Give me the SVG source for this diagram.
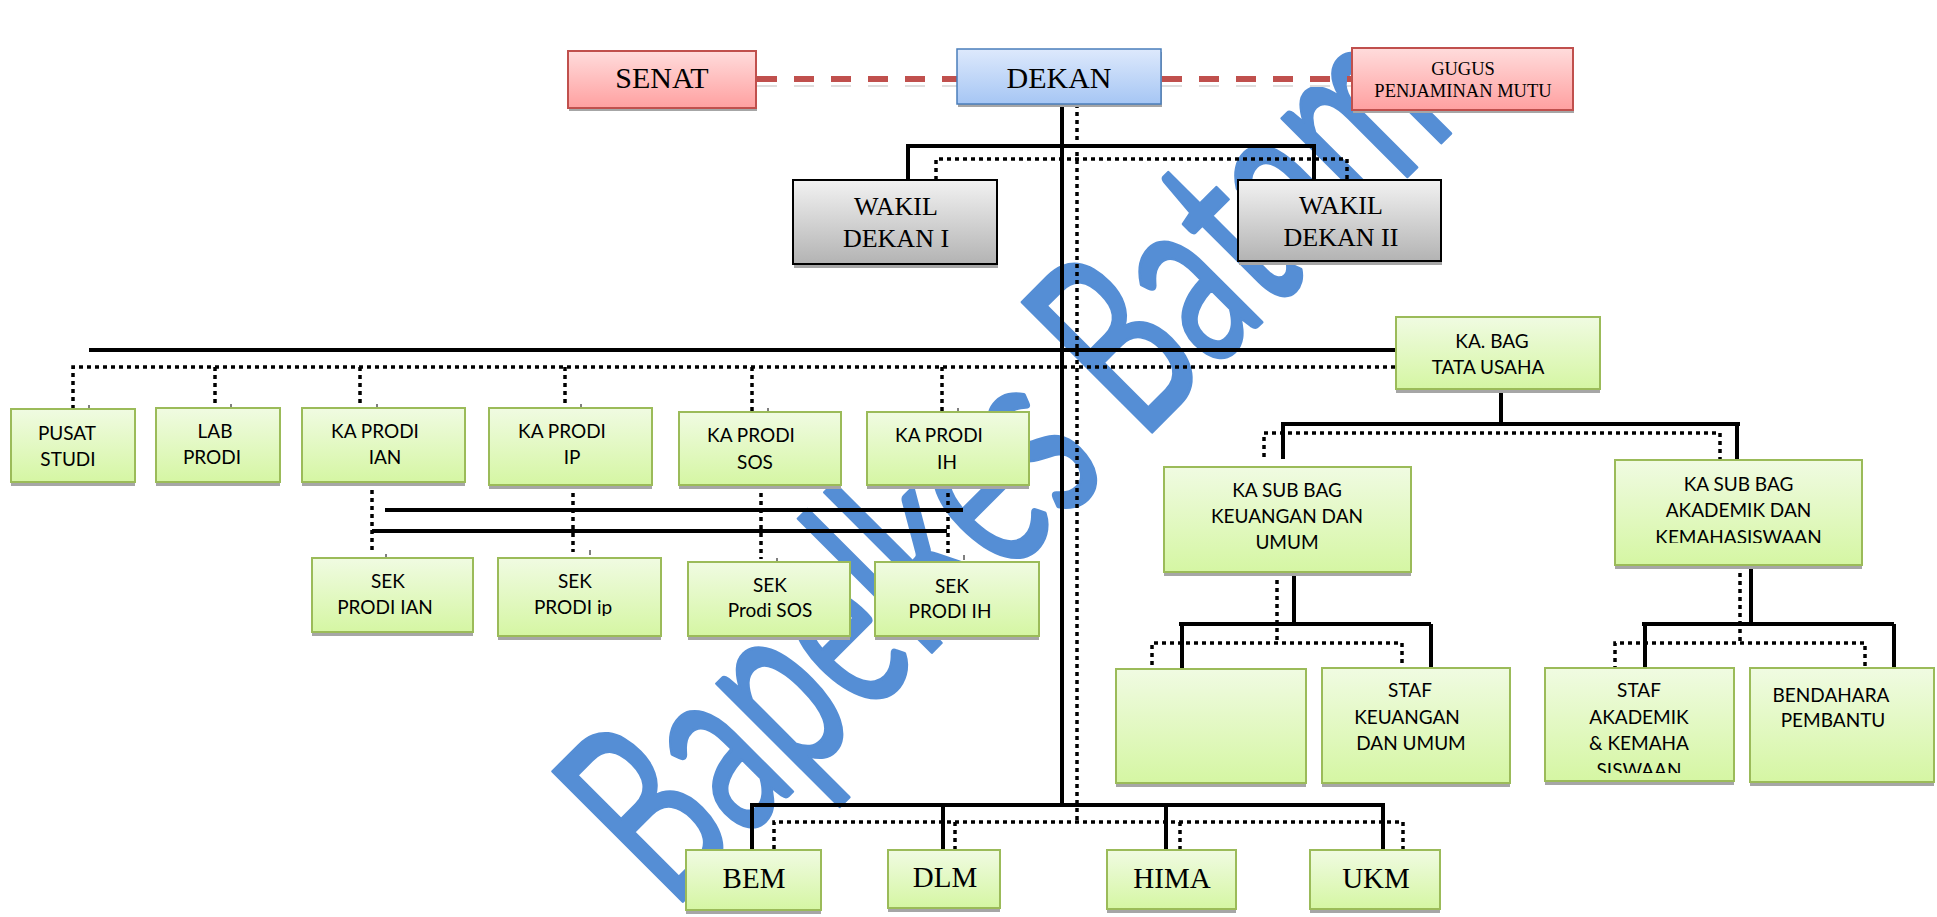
<svg xmlns="http://www.w3.org/2000/svg" width="1937" height="917" viewBox="0 0 1937 917">
<defs>
<linearGradient id="gG" x1="0" y1="0" x2="0" y2="1"><stop offset="0" stop-color="#f0fbe2"/><stop offset="1" stop-color="#d5f6a3"/></linearGradient>
<linearGradient id="gY" x1="0" y1="0" x2="0" y2="1"><stop offset="0" stop-color="#f2f2f2"/><stop offset="1" stop-color="#b3b3b3"/></linearGradient>
<linearGradient id="gB" x1="0" y1="0" x2="0" y2="1"><stop offset="0" stop-color="#dde9fc"/><stop offset="1" stop-color="#a6c6f4"/></linearGradient>
<linearGradient id="gR" x1="0" y1="0" x2="0" y2="1"><stop offset="0" stop-color="#ffdcdc"/><stop offset="1" stop-color="#ffa0a0"/></linearGradient>
<clipPath id="cIP"><rect x="490" y="550" width="180" height="66"/></clipPath>
<clipPath id="cAK"><rect x="1610" y="455" width="260" height="88"/></clipPath>
<clipPath id="cSW"><rect x="1540" y="660" width="200" height="113"/></clipPath>
</defs>
<style>
.g{fill:url(#gG);stroke:#9bbb59;stroke-width:2}
.y{fill:url(#gY);stroke:#000;stroke-width:2}
.b{fill:url(#gB);stroke:#4a7ebb;stroke-width:1.5}
.r{fill:url(#gR);stroke:#c0504d;stroke-width:2}
.sh{fill:#a6a6a6}
.solid{stroke:#000;stroke-width:4;fill:none}
.dot{stroke:#000;stroke-width:3.5;stroke-dasharray:4 4;fill:none}
.red{stroke:#c0504d;stroke-width:6;stroke-dasharray:20 17;fill:none}
.redsh{stroke:#dedede;stroke-width:2;stroke-dasharray:20 17;fill:none}
.tick{stroke:#000;stroke-width:1}
.se{font-family:"Liberation Serif","Times New Roman",serif;fill:#000;text-anchor:middle}
.sa{font-family:Lato,"Open Sans",sans-serif;font-size:19px;fill:#000;text-anchor:middle}
.wm{font-family:Lato,"Open Sans",sans-serif;font-weight:normal;font-size:205px;fill:#558ed5;stroke:#558ed5;stroke-width:2.5;stroke-linejoin:round}
</style>
<rect width="1937" height="917" fill="#fff"/>
<text class="wm" transform="translate(672,912) rotate(-45) scale(1,1.25)" textLength="1112" lengthAdjust="spacingAndGlyphs">Bapelkes Batam</text>
<g id="connectors">
<path class="redsh" d="M757,86 H957 M1162,86 H1352"/>
<path class="red" d="M757,79 H957 M1162,79 H1352"/>
<path class="solid" d="M1062,104 V805 M908,180 V146 H1314 V180 M89,350 H1396 M1501,389 V424 M1283,459 V424 H1740 M1737,424 V462 M1294,572 V624 M1179,624 H1431 M1182,624 V671 M1431,624 V671 M1751,565 V624 M1642,624 H1894 M1645,624 V670 M1894,624 V670 M752,849 V805 H1383 V849 M943,805 V849 M1166,805 V849 M385,510 H963 M372,531 H947"/>
<path class="dot" d="M1077,104 V822 M936,180 V159 H1347 V180 M73,409 V367 H1396 M215,367 V408 M360,367 V408 M565,367 V408 M752,367 V412 M942,367 V412 M372,482 V552 M573,485 V552 M761,485 V559 M948,485 V557 M1264,457 V433 H1720 V462 M1277,572 V643 M1152,673 V643 H1402 V669 M1740,565 V643 M1615,670 V643 H1865 V668 M774,849 V822 H1403 V849 M955,822 V849 M1180,822 V849"/>
<path class="tick" d="M89,405 V410 M231,404 V409 M377,404 V409 M581,404 V409 M768,408 V413 M958,408 V413 M386,554 V559 M590,550 V555 M777,558 V563 M964,555 V560"/>
</g>
<g id="senat"><rect class="sh" x="569" y="54" width="188" height="57"/><rect class="r" x="568" y="51" width="188" height="57"/><text class="se" x="662" y="88" font-size="30">SENAT</text></g>
<g id="dekan"><rect class="sh" x="958" y="52" width="204" height="55"/><rect class="b" x="957" y="49" width="204" height="55"/><text class="se" x="1059" y="88" font-size="30">DEKAN</text></g>
<g id="gugus"><rect class="sh" x="1353" y="51" width="221" height="62"/><rect class="r" x="1352" y="48" width="221" height="62"/><text class="se" x="1463" y="75" font-size="18.5">GUGUS</text><text class="se" x="1463" y="96.5" font-size="18.5">PENJAMINAN MUTU</text></g>
<g id="wakil1"><rect class="sh" x="794" y="184" width="204" height="84"/><rect class="y" x="793" y="180" width="204" height="84"/><text class="se" x="896" y="215" font-size="26">WAKIL</text><text class="se" x="896" y="247" font-size="26">DEKAN I</text></g>
<g id="wakil2"><rect class="sh" x="1239" y="184" width="203" height="81"/><rect class="y" x="1238" y="180" width="203" height="81"/><text class="se" x="1341" y="214" font-size="26">WAKIL</text><text class="se" x="1341" y="246" font-size="26">DEKAN II</text></g>
<g id="kabag"><rect class="sh" x="1396" y="321" width="204" height="72"/><rect class="g" x="1396" y="317" width="204" height="72"/><text class="sa" x="1492" y="348">KA. BAG</text><text class="sa" x="1488" y="374">TATA USAHA</text></g>
<g id="pusat"><rect class="sh" x="11" y="413" width="124" height="73"/><rect class="g" x="11" y="409" width="124" height="73"/><text class="sa" x="67" y="440">PUSAT</text><text class="sa" x="68" y="466">STUDI</text></g>
<g id="lab"><rect class="sh" x="156" y="412" width="124" height="74"/><rect class="g" x="156" y="408" width="124" height="74"/><text class="sa" x="215" y="438">LAB</text><text class="sa" x="212" y="464">PRODI</text></g>
<g id="kaprodi-ian"><rect class="sh" x="302" y="412" width="163" height="74"/><rect class="g" x="302" y="408" width="163" height="74"/><text class="sa" x="375" y="438">KA PRODI</text><text class="sa" x="385" y="464">IAN</text></g>
<g id="kaprodi-ip"><rect class="sh" x="489" y="412" width="163" height="77"/><rect class="g" x="489" y="408" width="163" height="77"/><text class="sa" x="562" y="438">KA PRODI</text><text class="sa" x="572" y="464">IP</text></g>
<g id="kaprodi-sos"><rect class="sh" x="679" y="416" width="162" height="73"/><rect class="g" x="679" y="412" width="162" height="73"/><text class="sa" x="751" y="442">KA PRODI</text><text class="sa" x="755" y="469">SOS</text></g>
<g id="kaprodi-ih"><rect class="sh" x="867" y="416" width="162" height="73"/><rect class="g" x="867" y="412" width="162" height="73"/><text class="sa" x="939" y="442">KA PRODI</text><text class="sa" x="947" y="469">IH</text></g>
<g id="sek-ian"><rect class="sh" x="312" y="562" width="161" height="74"/><rect class="g" x="312" y="558" width="161" height="74"/><text class="sa" x="388" y="588">SEK</text><text class="sa" x="385" y="614">PRODI IAN</text></g>
<g id="sek-ip"><rect class="sh" x="498" y="562" width="163" height="78"/><rect class="g" x="498" y="558" width="163" height="78"/><text class="sa" x="575" y="588">SEK</text><text class="sa" x="573" y="614" clip-path="url(#cIP)">PRODI ip</text></g>
<g id="sek-sos"><rect class="sh" x="688" y="566" width="162" height="74"/><rect class="g" x="688" y="562" width="162" height="74"/><text class="sa" x="770" y="592">SEK</text><text class="sa" x="770" y="617">Prodi SOS</text></g>
<g id="sek-ih"><rect class="sh" x="875" y="566" width="164" height="74"/><rect class="g" x="875" y="562" width="164" height="74"/><text class="sa" x="952" y="593">SEK</text><text class="sa" x="950" y="618">PRODI IH</text></g>
<g id="kasub-keu"><rect class="sh" x="1164" y="471" width="247" height="105"/><rect class="g" x="1164" y="467" width="247" height="105"/><text class="sa" x="1287" y="497">KA SUB BAG</text><text class="sa" x="1287" y="523">KEUANGAN DAN</text><text class="sa" x="1287" y="549">UMUM</text></g>
<g id="kasub-akad"><rect class="sh" x="1615" y="464" width="247" height="105"/><rect class="g" x="1615" y="460" width="247" height="105"/><text class="sa" x="1738.5" y="491">KA SUB BAG</text><text class="sa" x="1738.5" y="517">AKADEMIK DAN</text><text class="sa" x="1738.5" y="544" clip-path="url(#cAK)">KEMAHASISWAAN</text></g>
<g id="kosong"><rect class="sh" x="1116" y="673" width="190" height="114"/><rect class="g" x="1116" y="669" width="190" height="114"/></g>
<g id="staf-keu"><rect class="sh" x="1322" y="672" width="188" height="115"/><rect class="g" x="1322" y="668" width="188" height="115"/><text class="sa" x="1410" y="697">STAF</text><text class="sa" x="1407" y="724">KEUANGAN</text><text class="sa" x="1411" y="750">DAN UMUM</text></g>
<g id="staf-akad"><rect class="sh" x="1545" y="672" width="189" height="113"/><rect class="g" x="1545" y="668" width="189" height="113"/><text class="sa" x="1639" y="697">STAF</text><text class="sa" x="1639" y="724">AKADEMIK</text><text class="sa" x="1639" y="750">&amp; KEMAHA</text><text class="sa" x="1639" y="777" clip-path="url(#cSW)">SISWAAN</text></g>
<g id="bendahara"><rect class="sh" x="1750" y="672" width="184" height="114"/><rect class="g" x="1750" y="668" width="184" height="114"/><text class="sa" x="1831" y="702">BENDAHARA</text><text class="sa" x="1833" y="727">PEMBANTU</text></g>
<g id="bem"><rect class="sh" x="686" y="854" width="135" height="60"/><rect class="g" x="686" y="850" width="135" height="60"/><text class="se" x="754" y="888" font-size="29">BEM</text></g>
<g id="dlm"><rect class="sh" x="888" y="854" width="112" height="58"/><rect class="g" x="888" y="850" width="112" height="58"/><text class="se" x="945" y="887" font-size="29">DLM</text></g>
<g id="hima"><rect class="sh" x="1107" y="854" width="129" height="59"/><rect class="g" x="1107" y="850" width="129" height="59"/><text class="se" x="1172" y="888" font-size="29">HIMA</text></g>
<g id="ukm"><rect class="sh" x="1310" y="854" width="130" height="59"/><rect class="g" x="1310" y="850" width="130" height="59"/><text class="se" x="1376" y="888" font-size="29">UKM</text></g>
</svg>
